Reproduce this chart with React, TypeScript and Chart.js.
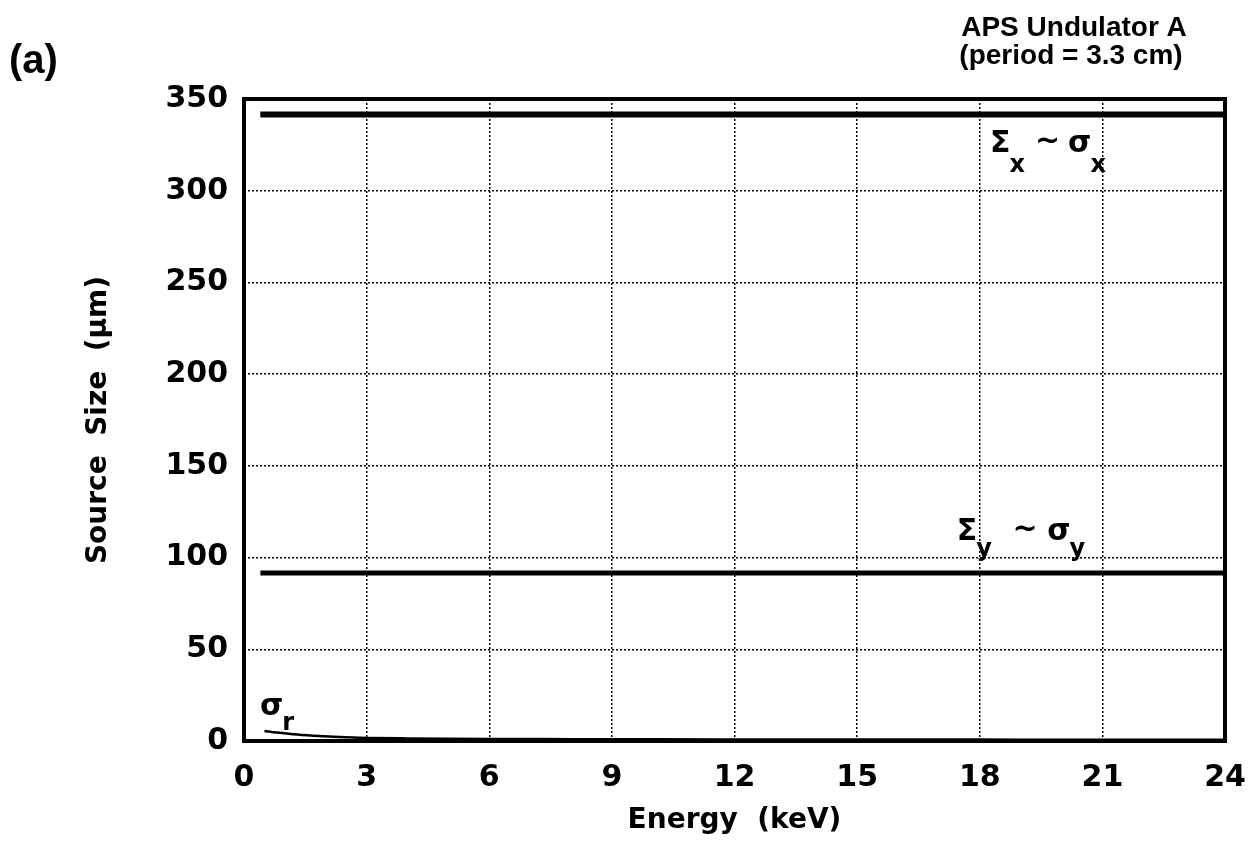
import React, { useEffect, useRef } from "react";
import { Chart, registerables } from "chart.js";

Chart.register(...registerables);

// ---- data ----
const sigmaXEnergy = [0.4, 6, 12, 18, 24];
const sigmaXValues = [341.5, 341.5, 341.5, 341.5, 341.5];
const sigmaYEnergy = [0.4, 6, 12, 18, 24];
const sigmaYValues = [91.6, 91.6, 91.6, 91.6, 91.6];
const sigmaREnergy = [0.5, 0.8, 1.2, 1.7, 2.2, 2.5, 3, 4, 5, 6, 8, 10, 12, 15, 18, 21, 24];
const sigmaRValues = [5.5, 4.6, 3.7, 2.9, 2.3, 2.0, 1.7, 1.4, 1.2, 1.1, 1.0, 0.9, 0.85, 0.8, 0.75, 0.7, 0.7];
const xTicks = [0, 3, 6, 9, 12, 15, 18, 21, 24];
const yTicks = [0, 50, 100, 150, 200, 250, 300, 350];

// annotation labels in data coordinates: [main, sub, energy, value]
const labelPieces: [string, string, number, number][] = [
  ["Σ", "x", 18.25, 321],
  ["~", "", 19.35, 322],
  ["σ", "x", 20.16, 321],
  ["Σ", "y", 17.44, 109.8],
  ["~", "", 18.8, 110.5],
  ["σ", "y", 19.65, 109.8],
  ["σ", "r", 0.39, 14.2],
];
const subDrop: Record<string, number> = { x: 20, y: 16, r: 15 };

const FONT = "'DejaVu Sans', sans-serif";

const overlayPlugin = {
  id: "overlay",
  afterDraw(chart: any) {
    const ctx = chart.ctx;
    const { left, right, top, bottom } = chart.chartArea;
    const xs = chart.scales.x;
    const ys = chart.scales.y;
    ctx.save();
    // frame
    ctx.strokeStyle = "#000";
    ctx.lineWidth = 4;
    ctx.strokeRect(left, top, right - left, bottom - top);
    // annotations
    ctx.fillStyle = "#000";
    ctx.textBaseline = "alphabetic";
    ctx.textAlign = "left";
    for (const [main, sub, e, v] of labelPieces) {
      const px = xs.getPixelForValue(e);
      const py = ys.getPixelForValue(v);
      ctx.font = `bold 30px ${FONT}`;
      ctx.fillText(main, px, py);
      const w = ctx.measureText(main).width;
      if (sub) {
        ctx.font = `bold 24px ${FONT}`;
        ctx.fillText(sub, px + w - 1, py + subDrop[sub]);
      }
    }
    // panel label
    ctx.font = `bold 40px 'Liberation Sans', Arial, sans-serif`;
    ctx.textAlign = "left";
    ctx.textBaseline = "middle";
    ctx.fillText("(a)", 1, 54);
    // title
    ctx.textAlign = "center";
    ctx.font = `bold 28px 'Liberation Sans', Arial, sans-serif`;
    ctx.fillText("APS Undulator A", 1066, 20);
    ctx.fillText("(period = 3.3 cm)", 1063, 48);
    ctx.restore();
  },
};

export default function App() {
  const ref = useRef<HTMLCanvasElement | null>(null);
  useEffect(() => {
    if (!ref.current) return;
    const chart = new Chart(ref.current, {
      type: "line",
      data: {
        datasets: [
          {
            label: "Σx ~ σx",
            data: sigmaXEnergy.map((x, i) => ({ x, y: sigmaXValues[i] })),
            borderColor: "#000",
            borderWidth: 6,
            pointRadius: 0,
            tension: 0,
          },
          {
            label: "Σy ~ σy",
            data: sigmaYEnergy.map((x, i) => ({ x, y: sigmaYValues[i] })),
            borderColor: "#000",
            borderWidth: 5,
            pointRadius: 0,
            tension: 0,
          },
          {
            label: "σr",
            data: sigmaREnergy.map((x, i) => ({ x, y: sigmaRValues[i] })),
            borderColor: "#000",
            borderWidth: 2.5,
            pointRadius: 0,
            cubicInterpolationMode: "monotone",
          },
        ],
      },
      options: {
        animation: false,
        responsive: true,
        maintainAspectRatio: false,
        layout: { padding: { top: 91, right: 23, left: 0, bottom: 0 } },
        plugins: { legend: { display: false }, tooltip: { enabled: false }, title: { display: false } },
        scales: {
          x: {
            type: "linear",
            min: 0,
            max: 24,
            afterBuildTicks: (s: any) => {
              s.ticks = xTicks.map((v) => ({ value: v }));
            },
            afterFit: (s: any) => {
              s.height = 100;
              s.paddingLeft = 0;
              s.paddingRight = 0;
            },
            ticks: {
              color: "#000",
              padding: 19,
              font: { family: FONT, size: 30, weight: "bold" },
              maxRotation: 0,
              autoSkip: false,
            },
            grid: { color: "#000", lineWidth: 1.5, drawTicks: false },
            border: { display: false, dash: [2, 2] },
            title: {
              display: true,
              text: "Energy  (keV)",
              color: "#000",
              font: { family: FONT, size: 28, weight: "bold" },
              padding: { top: 0, bottom: 3 },
            },
          },
          y: {
            type: "linear",
            min: 0,
            max: 350,
            afterBuildTicks: (s: any) => {
              s.ticks = yTicks.map((v) => ({ value: v }));
            },
            afterFit: (s: any) => {
              s.width = 236;
            },
            ticks: {
              color: "#000",
              padding: 16,
              font: { family: FONT, size: 30, weight: "bold" },
              autoSkip: false,
            },
            grid: { color: "#000", lineWidth: 1.5, drawTicks: false },
            border: { display: false, dash: [2, 2] },
            title: {
              display: true,
              text: "Source  Size  (µm)",
              color: "#000",
              font: { family: FONT, size: 28, weight: "bold" },
              padding: { top: 74, bottom: 0 },
            },
          },
        },
      },
      plugins: [overlayPlugin],
    } as any);
    return () => chart.destroy();
  }, []);
  return (
    <div style={{ width: 1240, height: 833, position: "relative" }}>
      <canvas ref={ref} />
    </div>
  );
}
